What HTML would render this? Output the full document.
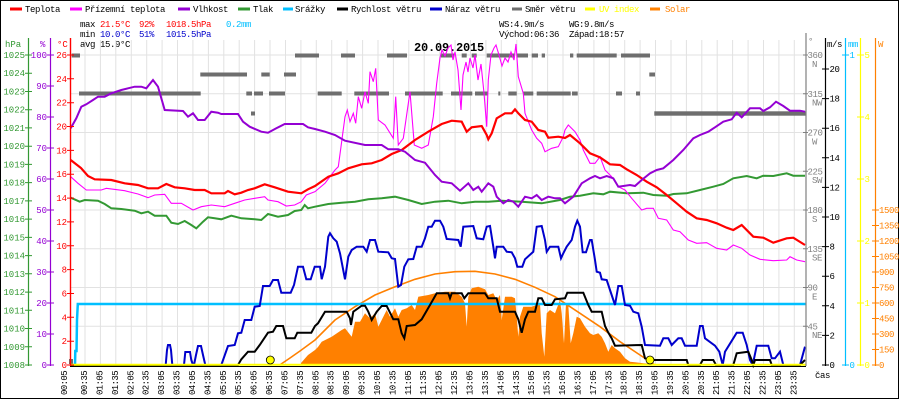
<!DOCTYPE html>
<html><head><meta charset="utf-8"><style>
html,body{margin:0;padding:0;background:#fff;}
svg{display:block;}
text{font-family:"Liberation Mono","DejaVu Sans Mono",monospace;font-size:9px;}
.lg{letter-spacing:-0.4px;}
.xl{letter-spacing:-0.6px;font-size:9px;}
</style></head><body>
<svg width="900" height="400" viewBox="0 0 900 400" xmlns="http://www.w3.org/2000/svg">
<rect x="0" y="0" width="900" height="400" fill="#fff"/>
<rect x="0.5" y="0.5" width="898" height="398" fill="none" stroke="#000" stroke-width="1"/>

<!-- Legend -->
<g stroke-width="3">
<line x1="10" y1="9" x2="22" y2="9" stroke="#ff0000"/>
<line x1="70" y1="9" x2="82" y2="9" stroke="#ff00ff"/>
<line x1="178" y1="9" x2="190" y2="9" stroke="#9400d3"/>
<line x1="238" y1="9" x2="250" y2="9" stroke="#339933"/>
<line x1="283" y1="9" x2="293" y2="9" stroke="#00bfff"/>
<line x1="337" y1="9" x2="348" y2="9" stroke="#000"/>
<line x1="430" y1="9" x2="442" y2="9" stroke="#0000cc"/>
<line x1="512" y1="9" x2="522" y2="9" stroke="#6e6e6e"/>
<line x1="585" y1="9" x2="595" y2="9" stroke="#ffff00"/>
<line x1="650" y1="9" x2="660" y2="9" stroke="#ff8000"/>
</g>
<g class="lg" fill="#000">
<text x="25" y="12">Teplota</text>
<text x="85" y="12">Přízemní teplota</text>
<text x="193" y="12">Vlhkost</text>
<text x="253" y="12">Tlak</text>
<text x="295" y="12">Srážky</text>
<text x="351" y="12">Rychlost větru</text>
<text x="445" y="12">Náraz větru</text>
<text x="525" y="12">Směr větru</text>
<text x="599" y="12" fill="#ffff00">UV index</text>
<text x="665" y="12" fill="#ff8000">Solar</text>
</g>

<!-- Info -->
<g class="lg">
<text x="80" y="27" fill="#000">max</text>
<text x="100" y="27" fill="#ff0000">21.5°C</text>
<text x="139" y="27" fill="#ff0000">92%</text>
<text x="166" y="27" fill="#ff0000">1018.5hPa</text>
<text x="226" y="27" fill="#00bfff">0.2mm</text>
<text x="80" y="37" fill="#000">min</text>
<text x="100" y="37" fill="#0000cc">10.0°C</text>
<text x="139" y="37" fill="#0000cc">51%</text>
<text x="166" y="37" fill="#0000cc">1015.5hPa</text>
<text x="80" y="47" fill="#000">avg 15.9°C</text>
<text x="499" y="27" fill="#000">WS:4.9m/s</text>
<text x="569" y="27" fill="#000">WG:9.8m/s</text>
<text x="499" y="37" fill="#000">Východ:06:36</text>
<text x="569" y="37" fill="#000">Západ:18:57</text>
</g>

<!-- Grid -->
<path d="M85 40V365M100.4 40V365M115.8 40V365M131.3 40V365M146.7 40V365M162.1 40V365M177.5 40V365M192.9 40V365M208.4 40V365M223.8 40V365M239.2 40V365M254.6 40V365M270 40V365M285.5 40V365M300.9 40V365M316.3 40V365M331.7 40V365M347.1 40V365M362.6 40V365M378 40V365M393.4 40V365M408.8 40V365M424.2 40V365M439.7 40V365M455.1 40V365M470.5 40V365M485.9 40V365M501.3 40V365M516.8 40V365M532.2 40V365M547.6 40V365M563 40V365M578.4 40V365M593.9 40V365M609.3 40V365M624.7 40V365M640.1 40V365M655.5 40V365M671 40V365M686.4 40V365M701.8 40V365M717.2 40V365M732.6 40V365M748.1 40V365M763.5 40V365M778.9 40V365M794.3 40V365" stroke="#e2e2e2" stroke-width="1" fill="none"/>
<path d="M70 55H806M70 93.75H806M70 132.5H806M70 171.25H806M70 210H806M70 248.75H806M70 287.5H806M70 326.25H806" stroke="#e2e2e2" stroke-width="1" fill="none"/>

<!-- Title -->
<text x="449" y="51" text-anchor="middle" font-weight="bold" style="font-size:12px;letter-spacing:-0.2px" fill="#000">20.09.2015</text>

<!-- Solar fill -->
<path d="M301,365 L301,363 L308,355 L315,350 L318,347 L321.7,341.7 L331.7,336.7 L341.7,330 L345,328.3 L351.7,336.7 L355,321.7 L360,321.7 L365,313.3 L370,318.3 L375,313.3 L378.3,326.7 L381.7,320 L386.7,310 L390,316.7 L395,308.3 L398.3,316.7 L401.7,310 L406.7,308.3 L411.7,305 L415,310 L418.3,296.7 L428.3,295 L435,293.3 L445,291.7 L455,291.7 L461.7,296.7 L465,303.3 L466.7,326.7 L468.3,296.7 L471.7,288.3 L478.3,286.7 L485,289.3 L488.3,295 L493.3,293.3 L496.7,300 L500,295 L501.7,320 L505,296.7 L511.7,296.7 L515,298.3 L516.7,316.7 L518.3,336.7 L520,316.7 L523.3,306.7 L531.7,306.7 L536.7,305 L540,303.3 L541.7,333.3 L544.3,356.7 L546.7,313.3 L550,310 L555,313.3 L560,300 L561.7,313.3 L564,343.3 L566,303.3 L568.3,305 L570.7,343.3 L573.3,333.3 L576.7,316.7 L580,318.3 L585,326.7 L590,333.3 L593.3,335 L598.3,333.3 L601.7,336.7 L605,343.3 L608.3,351.7 L611.7,345 L615,348.3 L620,351.7 L625,358.3 L630,361.7 L643.3,363.3 L653.3,364 L655,365 Z" fill="#ff8000"/>
<!-- Solar theoretical -->
<path d="M279.7,365 L290,358 L300,351 L315,340 L335,320 L355,306.7 L375,295 L395,286.7 L415,279.3 L435,274 L455,271.7 L475,271.3 L495,274 L515,279.3 L535,287.3 L555,296.7 L580,313.3 L600,326.7 L620,341.7 L640,355 L655,365" fill="none" stroke="#ff8000" stroke-width="1.6"/>

<!-- Rain -->
<path d="M73,365 L75,365 L75.3,351 L76.5,351 L77,320 L77.8,304 L806,304" fill="none" stroke="#00bfff" stroke-width="2.5"/>

<!-- Gust (blue) -->
<path d="M70,365 L165.7,365 L167,350 L168,345 L170,345 L171,350 L172.3,365 L184,365 L185.3,352 L190,352 L191.3,360 L193,365 L194,365 L196,355 L198,346 L201,346 L203,355 L205.3,365 L221.3,365 L228,346 L234.7,345 L238,333.3 L241.3,332.7 L244.7,320 L251.3,320 L254.7,306.7 L259.7,306 L263,286 L269.7,286 L273,280 L278,280 L281.3,292.7 L290.7,292.7 L294,285 L298,266.7 L303,266.7 L306.3,279.3 L310.7,279.3 L314.7,266.7 L320,266.7 L321.7,279.3 L325,266.7 L328.3,236.7 L330,233.3 L333.3,238.3 L336.7,241.7 L340,253.3 L345,279.3 L348.3,256.7 L351.7,250 L356.7,246.7 L363.3,246.7 L366.7,251.7 L370,240 L375,240 L378.3,251.7 L388.3,252.3 L391.7,258.3 L395,259 L398.3,286.7 L401,285 L404.3,266.7 L408.3,259.3 L413.3,259 L416.7,246.7 L421.7,246.7 L425,238.3 L428.3,226.7 L431.7,226.7 L435,220.7 L440,220.7 L443.3,226.7 L446.7,239 L458.3,240 L460.7,246.7 L463.3,226.7 L473.3,226 L476.7,238.3 L483.3,239.3 L486.7,226.7 L490,226 L493.3,246.7 L495,258.3 L496.7,246.7 L503.3,246.7 L506.7,251.7 L511.7,252.3 L515,258.3 L517.3,266.7 L522.3,266.7 L525,259.3 L533.3,251.7 L536.7,226.7 L541.7,226 L545,240 L546.7,251.7 L550,246.7 L558.3,246.7 L561,258.3 L563.3,253.3 L566.7,246.7 L571.7,240 L575,226.7 L577.3,220.7 L580,226.7 L582.7,252.3 L586,252.3 L590,240 L591.7,240 L595,260 L596.7,271.7 L600,272.7 L601.7,279.3 L606.7,280 L610,290 L615,305 L618.3,286 L621.7,286 L625,305 L630,305.7 L633.3,311.7 L638.3,313.3 L641.7,326.7 L645,345 L660,345.7 L663.3,338.3 L668.3,338.3 L671.7,345 L678.3,338.3 L681.7,338.3 L685,345.7 L696.7,345.7 L700,326 L702.7,326 L705,338.3 L715,345.7 L719.3,351.7 L722.7,365 L725,351.7 L733.3,338.3 L736.7,332.7 L742.7,332.7 L746.7,345 L750,360 L752.7,365 L756.7,345.7 L768.3,345.7 L771.7,358.3 L775,358.3 L780,351.7 L783.3,365 L800,365 L805,346.7" fill="none" stroke="#0000cc" stroke-width="2"/>

<!-- Wind speed (black) -->
<path d="M70,365 L238,365 L241.3,359.3 L248,351.7 L254.7,351.7 L259.7,345 L268,332.7 L273,331.7 L276.3,326 L283,326 L286.3,338.3 L294.7,338.3 L297.3,332.7 L311.3,332.7 L315,326 L318,323.3 L325,311.7 L346.7,311.7 L350,318.3 L351,325 L353.3,311.7 L361.7,305.7 L365,305.7 L368.3,311.7 L371.7,320 L376.7,311.7 L381.7,306 L386.7,306 L393.3,319.3 L398.3,319.3 L401.7,333.3 L404.3,338.3 L406.7,326 L415,325 L421.7,319.3 L430,305 L436.7,293.3 L448.3,293.3 L450,298.3 L451.7,293.3 L461.7,293.3 L464.3,298.3 L468.3,293.3 L485,293.3 L488.3,298.3 L496.7,298.3 L500,311.7 L515,311.7 L518.3,319.3 L521.7,332.7 L525,319.3 L528.3,311.7 L535,311.7 L538.3,298.3 L541.7,298.3 L545,305 L551.7,305 L555,299.3 L565,298.3 L567.3,292.7 L583.3,292.7 L588.3,305 L591.7,311.7 L601.7,311.7 L605,326 L608.3,332.7 L611.7,338.3 L615,345.7 L641.7,345 L645,358.3 L653.3,360 L686.7,360 L688.3,365 L700,365 L702.7,360 L713.3,360 L716,365 L733.3,365 L736.7,353.3 L748.3,351.7 L751.7,360 L753.3,365 L755,360 L770,360 L771.7,365 L800,365 L805,360" fill="none" stroke="#000" stroke-width="2"/>

<!-- Wind direction bars -->
<g fill="#6e6e6e">
<rect x="69" y="359" width="4" height="5"/>
<rect x="71.7" y="53.5" width="8.3" height="4"/>
<rect x="295" y="53.5" width="24" height="4"/>
<rect x="341" y="53.5" width="14" height="4"/>
<rect x="387" y="53.5" width="20" height="4"/>
<rect x="441" y="53.5" width="13" height="4"/>
<rect x="461.7" y="53.5" width="5" height="4"/>
<rect x="471.7" y="53.5" width="5" height="4"/>
<rect x="486.7" y="53.5" width="28.3" height="4"/>
<rect x="516.7" y="53.5" width="11.3" height="4"/>
<rect x="531.7" y="53.5" width="6.3" height="4"/>
<rect x="541.7" y="53.5" width="3.3" height="4"/>
<rect x="570" y="53.5" width="3.3" height="4"/>
<rect x="576.7" y="53.5" width="40" height="4"/>
<rect x="621" y="53.5" width="29" height="4"/>
<rect x="200.3" y="72.5" width="46.7" height="4"/>
<rect x="261.3" y="72.5" width="8.4" height="4"/>
<rect x="284" y="72.5" width="12" height="4"/>
<rect x="649.3" y="72.5" width="5.7" height="4"/>
<rect x="79" y="91.5" width="121.7" height="4"/>
<rect x="246.3" y="91.5" width="5.7" height="4"/>
<rect x="254" y="91.5" width="9" height="4"/>
<rect x="269" y="91.5" width="16" height="4"/>
<rect x="317.7" y="91.5" width="24" height="4"/>
<rect x="354.3" y="91.5" width="34.7" height="4"/>
<rect x="405" y="91.5" width="37.7" height="4"/>
<rect x="451" y="91.5" width="21.3" height="4"/>
<rect x="475" y="91.5" width="12.7" height="4"/>
<rect x="498.3" y="91.5" width="2" height="4"/>
<rect x="508.3" y="91.5" width="8.4" height="4"/>
<rect x="523.3" y="91.5" width="10" height="4"/>
<rect x="536.7" y="91.5" width="34" height="4"/>
<rect x="572" y="91.5" width="5.7" height="4"/>
<rect x="616" y="91.5" width="6" height="4"/>
<rect x="636" y="91.5" width="4" height="4"/>
<rect x="251" y="111.5" width="4" height="4"/>
<rect x="654.3" y="111.3" width="151.7" height="4.4"/>
</g>

<!-- Pressure (green) -->
<path d="M70.7,197.7 L79.7,201.7 L84.7,200 L98,200.7 L104.7,204 L111.3,208.3 L121.3,209 L134.7,210.7 L141.3,213.3 L148,211.7 L154.7,215.7 L166.3,215.7 L171.3,222.7 L178,224 L184.7,221 L191.3,225 L196.3,228.3 L203,221.7 L208,217.3 L214.7,218.3 L221.3,219.3 L231.3,215.7 L241.3,218.3 L254.7,219.3 L261.3,220 L268,214 L278,216.7 L288,215 L294.7,211 L301.3,210 L304.7,205 L308,208.3 L315,206.7 L328.3,204 L341.7,202.7 L355,201.7 L368.3,199.3 L381.7,198.3 L395,196.7 L408.3,200 L421.7,204 L435,201.7 L448.3,200.7 L461.7,203.3 L475,201.7 L488.3,201.7 L501.7,200.7 L521.7,201.7 L541.7,203.3 L560,200 L570,196.7 L580,195.7 L593.3,193.3 L603.3,194.3 L610,191.7 L626.7,193.3 L643.3,192.7 L653.3,195 L666.7,195.7 L673.3,194 L686.7,193.3 L700,190 L713.3,186.7 L723.3,184 L733.3,178.3 L746.7,176 L756.7,178.3 L763.3,175.7 L773.3,176 L786.7,173.3 L793.3,175.7 L805,175.7" fill="none" stroke="#339933" stroke-width="2"/>

<!-- Ground temp (magenta) -->
<path d="M70.7,176.7 L78,183.3 L86.3,190 L101.3,190 L106.3,188.3 L124.7,190.7 L138,194 L148,197.7 L154.7,195 L164.7,194.3 L171.3,203.3 L181.3,203.3 L193,210 L201.3,206.7 L211.3,205 L224.7,206.7 L234.7,203.3 L244.7,200 L254.7,198.3 L264.7,196.7 L268,200 L278,201.7 L286.3,206 L294.7,205 L301.3,201.7 L306.3,195 L315,191.7 L325,183.3 L335,170 L338.3,166.7 L341,146.7 L345,116.7 L347.3,110 L350,121.7 L353.3,113.3 L355.7,123.3 L358.3,96.7 L361.7,108.3 L365,91.7 L368.3,103.3 L370,71.7 L373.3,81.7 L375.7,68.3 L378.3,120 L385,125 L393.3,138.3 L395.7,96.7 L398.3,145 L403.3,138.3 L410,91.7 L414.3,145 L421.7,148.3 L428.3,145 L433.3,116.7 L436.7,83.3 L440,58 L442,50 L445,56 L448,48 L451,45 L453,60 L455,52 L458,70 L461,110 L463,75 L466,62 L468,72 L470,58 L473,68 L475,55 L478,80 L481,64 L484,93 L486.7,126.7 L488.3,80 L491,55 L494,48 L496,45 L499,55 L502,66 L505,58 L508,62 L511,52 L514,60 L516,44 L518.3,76.7 L523.3,93.3 L525,113.3 L531.7,130 L536.7,138.3 L541.7,143.3 L545,151.7 L551.7,148.3 L558.3,146.7 L563.3,136.7 L565,130 L568.3,125 L575,131.7 L580,140 L583.3,150 L590,163.3 L595,163.3 L600,156.7 L605,170 L611.7,176.7 L618.3,186.7 L625,190 L631.7,198.3 L641.7,210 L646.7,208.3 L653.3,208.3 L658.3,218.3 L666.7,220 L673.3,230 L680,231.7 L688.3,240 L696.7,243.3 L706.7,242.7 L716.7,248.3 L726.7,250 L733.3,245 L741.7,248.3 L750,255 L760,259.3 L773.3,260.7 L786.7,260 L790,256.7 L796.7,260 L805,261.7" fill="none" stroke="#ff00ff" stroke-width="1.1"/>

<!-- Temperature (red) -->
<path d="M70.7,160 L81,168 L88,176 L94.7,179.3 L111.3,180 L124.7,183.3 L138,185 L148,188.3 L158,188.3 L166.3,184 L174.7,187.3 L184.7,188.3 L194.7,190 L204.7,190 L211.3,193.3 L224.7,193.3 L228,191 L234.7,194.3 L241.3,192.7 L248,190 L254.7,188.3 L264.7,184.3 L274.7,187.3 L288,191.7 L301.3,193.3 L308,189.3 L315,186 L328.3,176.7 L338.3,173.3 L348.3,168.3 L361.7,164.3 L371.7,163.3 L381.7,160 L391.7,154 L401.7,150 L415,140 L428.3,131.7 L441.7,124 L451.7,120.7 L461.7,121.7 L466.7,131.7 L471.7,127.3 L481.7,126 L486.7,135 L488.3,139.3 L491.7,133.3 L496.7,118.3 L505,113.3 L511.7,113.3 L515,109.3 L518.3,113.3 L525,120 L531.7,121.7 L538.3,130 L545,131.7 L548.3,137.7 L558.3,136.7 L565,138 L570,135 L580,143.3 L590,153.3 L600,157.3 L610,164.3 L620,165 L626.7,169.3 L636.7,175 L646.7,181.7 L656.7,187.3 L666.7,195 L676.7,203.3 L686.7,211.7 L696.7,218.3 L706.7,220 L716.7,223.3 L726.7,227.7 L733.3,230 L741.7,225 L753.3,236.7 L763.3,237.7 L773.3,242.7 L786.7,238.3 L793.3,237.7 L805,245" fill="none" stroke="#ff0000" stroke-width="2.2"/>

<!-- Humidity (purple) -->
<path d="M70.7,128.3 L76.3,118.3 L81.3,106.7 L86.3,104.3 L93,100 L98,96.7 L104.7,96.7 L111.3,93.3 L121.3,90 L128,88.3 L134.7,86.7 L141.3,86.7 L146.3,88.3 L153,80 L158,86.7 L164.7,110 L183,111 L188,116.7 L193,113.3 L198,120 L204.7,120 L211.3,111.7 L218,112.7 L221.3,114 L238,114 L243,121.7 L249.7,126.7 L261.3,131.7 L268,132.7 L276.3,128.3 L284.7,124 L303,124 L308,127.3 L315,129 L325,131.7 L335,135 L345,140.7 L365,145 L381.7,145 L388.3,149.3 L398.3,149.3 L405,151.7 L415,160 L425,162.7 L435,175 L441.7,181.7 L451.7,183.3 L460,190.7 L468.3,183.3 L473.3,190 L478.3,186.7 L481.7,191.7 L488.3,183.3 L493.3,186.7 L496.7,196.7 L503.3,203.3 L508.3,200 L513.3,201.7 L518.3,206.7 L525,196.7 L531.7,198.3 L536.7,195 L541.7,200 L548.3,196.7 L555,198.3 L560,198.3 L565,203.3 L573.3,196.7 L581.7,183.3 L590,178.3 L595,176 L600,178.3 L606.7,176 L613.3,178.3 L618.3,186.7 L623.3,186 L630,185 L635,186 L641.7,180 L650,173.3 L656.7,170 L663.3,168.3 L673.3,160 L683.3,150 L693.3,138.3 L700,135 L708.3,131.7 L715,127.3 L723.3,121.7 L731.7,119.3 L736.7,112.7 L741.7,117.3 L750,108.3 L760,108.3 L763.3,111 L770,107.3 L776,101.7 L783.3,106 L790,110.7 L800,110.7 L805,111.7" fill="none" stroke="#9400d3" stroke-width="2"/>

<!-- Bottom axis + UV line -->
<line x1="70" y1="366.5" x2="806" y2="366.5" stroke="#000" stroke-width="1"/>
<line x1="70" y1="364.8" x2="806" y2="364.8" stroke="#ffff00" stroke-width="2"/>

<!-- sunrise / sunset dots -->
<circle cx="270.3" cy="360" r="4" fill="#ffff00" stroke="#000" stroke-width="0.8"/>
<circle cx="650" cy="360" r="4" fill="#ffff00" stroke="#000" stroke-width="0.8"/>

<!-- Left axes -->
<line x1="28.5" y1="38" x2="28.5" y2="366" stroke="#339933" stroke-width="1.2"/>
<line x1="50.5" y1="38" x2="50.5" y2="366" stroke="#9400d3" stroke-width="1.2"/>
<line x1="70.5" y1="38" x2="70.5" y2="366" stroke="#ff0000" stroke-width="1.4"/>
<text x="5" y="47" fill="#339933">hPa</text>
<text x="40" y="47" fill="#9400d3">%</text>
<text x="57" y="47" fill="#ff0000">°C</text>

<path d="M25 55H32M25 73.2H32M25 91.5H32M25 109.7H32M25 127.9H32M25 146.2H32M25 164.4H32M25 182.6H32M25 200.9H32M25 219.1H32M25 237.4H32M25 255.6H32M25 273.8H32M25 292.1H32M25 310.3H32M25 328.5H32M25 346.8H32M25 365H32" stroke="#339933" stroke-width="1"/>
<g fill="#339933" text-anchor="end">
<text x="25" y="58">1025</text><text x="25" y="76.2">1024</text><text x="25" y="94.5">1023</text><text x="25" y="112.7">1022</text><text x="25" y="130.9">1021</text><text x="25" y="149.2">1020</text><text x="25" y="167.4">1019</text><text x="25" y="185.6">1018</text><text x="25" y="203.9">1017</text><text x="25" y="222.1">1016</text><text x="25" y="240.4">1015</text><text x="25" y="258.6">1014</text><text x="25" y="276.8">1013</text><text x="25" y="295.1">1012</text><text x="25" y="313.3">1011</text><text x="25" y="331.5">1010</text><text x="25" y="349.8">1009</text><text x="25" y="368">1008</text>
</g>
<path d="M47 55H54M47 86H54M47 117H54M47 148H54M47 179H54M47 210H54M47 241H54M47 272H54M47 303H54M47 334H54M47 365H54" stroke="#9400d3" stroke-width="1"/>
<g fill="#9400d3" text-anchor="end">
<text x="47" y="58">100</text><text x="47" y="89">90</text><text x="47" y="120">80</text><text x="47" y="151">70</text><text x="47" y="182">60</text><text x="47" y="213">50</text><text x="47" y="244">40</text><text x="47" y="275">30</text><text x="47" y="306">20</text><text x="47" y="337">10</text><text x="47" y="368">0</text>
</g>
<path d="M67 55H74M67 78.8H74M67 102.7H74M67 126.5H74M67 150.4H74M67 174.2H74M67 198.1H74M67 221.9H74M67 245.8H74M67 269.6H74M67 293.5H74M67 317.3H74M67 341.2H74M67 365H74" stroke="#ff0000" stroke-width="1"/>
<g fill="#ff0000" text-anchor="end">
<text x="67" y="58">26</text><text x="67" y="81.8">24</text><text x="67" y="105.7">22</text><text x="67" y="129.5">20</text><text x="67" y="153.4">18</text><text x="67" y="177.2">16</text><text x="67" y="201.1">14</text><text x="67" y="224.9">12</text><text x="67" y="248.8">10</text><text x="67" y="272.6">8</text><text x="67" y="296.5">6</text><text x="67" y="320.3">4</text><text x="67" y="344.2">2</text><text x="67" y="368">0</text>
</g>

<!-- Right axes -->
<line x1="806" y1="33" x2="806" y2="366" stroke="#808080" stroke-width="1.2"/>
<line x1="825.5" y1="38" x2="825.5" y2="366" stroke="#000" stroke-width="1.2"/>
<line x1="845.5" y1="38" x2="845.5" y2="366" stroke="#00bfff" stroke-width="1.2"/>
<line x1="860.5" y1="38" x2="860.5" y2="366" stroke="#ffff00" stroke-width="1.2"/>
<line x1="875.5" y1="38" x2="875.5" y2="366" stroke="#ff8000" stroke-width="1.2"/>

<text x="808" y="44" fill="#808080">°</text>
<text x="827" y="47" fill="#000" class="lg">m/s</text>
<text x="848" y="47" fill="#00bfff" class="lg">mm</text>
<text x="878" y="47" fill="#ff8000">W</text>

<path d="M803 55H808M803 93.75H808M803 132.5H808M803 171.25H808M803 210H808M803 248.75H808M803 287.5H808M803 326.25H808" stroke="#808080" stroke-width="1"/>
<g fill="#808080" class="lg">
<text x="807.5" y="58">360</text><text x="812" y="67">N</text>
<text x="807.5" y="96.8">315</text><text x="812" y="105.7">NW</text>
<text x="807.5" y="135.5">270</text><text x="812" y="144.5">W</text>
<text x="807.5" y="174.3">225</text><text x="812" y="183.2">SW</text>
<text x="807.5" y="213">180</text><text x="812" y="222">S</text>
<text x="807.5" y="251.8">135</text><text x="812" y="260.7">SE</text>
<text x="807.5" y="290.5">90</text><text x="812" y="299.5">E</text>
<text x="807.5" y="329.3">45</text><text x="812" y="338.2">NE</text>
</g>

<path d="M822 69H829M822 98.6H829M822 128.2H829M822 157.8H829M822 187.4H829M822 217H829M822 246.6H829M822 276.2H829M822 305.8H829M822 335.4H829M822 365H829" stroke="#000" stroke-width="1"/>
<g fill="#000" class="lg">
<text x="829.5" y="72">20</text><text x="829.5" y="101.6">18</text><text x="829.5" y="131.2">16</text><text x="829.5" y="160.8">14</text><text x="829.5" y="190.4">12</text><text x="829.5" y="220">10</text><text x="829.5" y="249.6">8</text><text x="829.5" y="279.2">6</text><text x="829.5" y="308.8">4</text><text x="829.5" y="338.4">2</text><text x="829.5" y="368">0</text>
</g>

<path d="M842 55H849M842 365H849" stroke="#00bfff" stroke-width="1"/>
<text x="849.5" y="58" fill="#00bfff">1</text>
<text x="849.5" y="368" fill="#00bfff">0</text>

<path d="M857 55H864M857 117H864M857 179H864M857 241H864M857 303H864M857 365H864" stroke="#ffff00" stroke-width="1"/>
<g fill="#ffff00">
<text x="864.5" y="58">5</text><text x="864.5" y="120">4</text><text x="864.5" y="182">3</text><text x="864.5" y="244">2</text><text x="864.5" y="306">1</text><text x="864.5" y="368">0</text>
</g>

<path d="M872 210H879M872 225.5H879M872 241H879M872 256.5H879M872 272H879M872 287.5H879M872 303H879M872 318.5H879M872 334H879M872 349.5H879M872 365H879" stroke="#ff8000" stroke-width="1"/>
<g fill="#ff8000" class="lg">
<text x="879" y="213">1500</text><text x="879" y="228.5">1350</text><text x="879" y="244">1200</text><text x="879" y="259.5">1050</text><text x="879" y="275">900</text><text x="879" y="290.5">750</text><text x="879" y="306">600</text><text x="879" y="321.5">450</text><text x="879" y="337">300</text><text x="879" y="352.5">150</text><text x="879" y="368">0</text>
</g>

<text x="815" y="378" fill="#000" class="lg">čas</text>

<!-- X labels -->
<g fill="#000" class="xl">
<text transform="translate(67,395) rotate(-90)">00:05</text>
<text transform="translate(87,395) rotate(-90)">00:35</text>
<text transform="translate(102.4,395) rotate(-90)">01:05</text>
<text transform="translate(117.8,395) rotate(-90)">01:35</text>
<text transform="translate(133.3,395) rotate(-90)">02:05</text>
<text transform="translate(148.7,395) rotate(-90)">02:35</text>
<text transform="translate(164.1,395) rotate(-90)">03:05</text>
<text transform="translate(179.5,395) rotate(-90)">03:35</text>
<text transform="translate(194.9,395) rotate(-90)">04:05</text>
<text transform="translate(210.4,395) rotate(-90)">04:35</text>
<text transform="translate(225.8,395) rotate(-90)">05:05</text>
<text transform="translate(241.2,395) rotate(-90)">05:35</text>
<text transform="translate(256.6,395) rotate(-90)">06:05</text>
<text transform="translate(272,395) rotate(-90)">06:35</text>
<text transform="translate(287.5,395) rotate(-90)">07:05</text>
<text transform="translate(302.9,395) rotate(-90)">07:35</text>
<text transform="translate(318.3,395) rotate(-90)">08:05</text>
<text transform="translate(333.7,395) rotate(-90)">08:35</text>
<text transform="translate(349.1,395) rotate(-90)">09:05</text>
<text transform="translate(364.6,395) rotate(-90)">09:35</text>
<text transform="translate(380,395) rotate(-90)">10:05</text>
<text transform="translate(395.4,395) rotate(-90)">10:35</text>
<text transform="translate(410.8,395) rotate(-90)">11:05</text>
<text transform="translate(426.2,395) rotate(-90)">11:35</text>
<text transform="translate(441.7,395) rotate(-90)">12:05</text>
<text transform="translate(457.1,395) rotate(-90)">12:35</text>
<text transform="translate(472.5,395) rotate(-90)">13:05</text>
<text transform="translate(487.9,395) rotate(-90)">13:35</text>
<text transform="translate(503.3,395) rotate(-90)">14:05</text>
<text transform="translate(518.8,395) rotate(-90)">14:35</text>
<text transform="translate(534.2,395) rotate(-90)">15:05</text>
<text transform="translate(549.6,395) rotate(-90)">15:35</text>
<text transform="translate(565,395) rotate(-90)">16:05</text>
<text transform="translate(580.4,395) rotate(-90)">16:35</text>
<text transform="translate(595.9,395) rotate(-90)">17:05</text>
<text transform="translate(611.3,395) rotate(-90)">17:35</text>
<text transform="translate(626.7,395) rotate(-90)">18:05</text>
<text transform="translate(642.1,395) rotate(-90)">18:35</text>
<text transform="translate(657.5,395) rotate(-90)">19:05</text>
<text transform="translate(673,395) rotate(-90)">19:35</text>
<text transform="translate(688.4,395) rotate(-90)">20:05</text>
<text transform="translate(703.8,395) rotate(-90)">20:35</text>
<text transform="translate(719.2,395) rotate(-90)">21:05</text>
<text transform="translate(734.6,395) rotate(-90)">21:35</text>
<text transform="translate(750.1,395) rotate(-90)">22:05</text>
<text transform="translate(765.5,395) rotate(-90)">22:35</text>
<text transform="translate(780.9,395) rotate(-90)">23:05</text>
<text transform="translate(796.3,395) rotate(-90)">23:35</text>
</g>
</svg>
</body></html>
